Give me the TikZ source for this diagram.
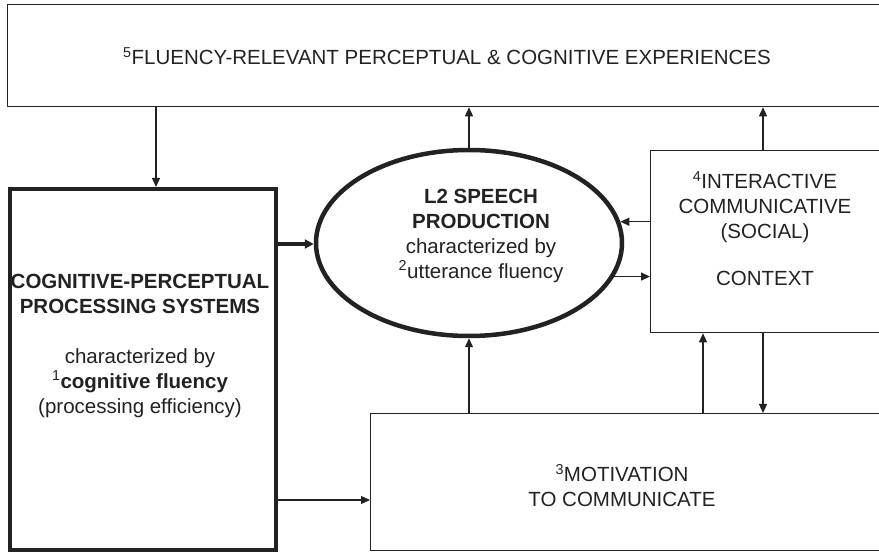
\documentclass[tikz,border=0pt]{standalone}
\usepackage{fontspec}
\setmainfont{Liberation Sans}
\usetikzlibrary{arrows.meta,shapes.geometric}
\definecolor{ink}{HTML}{222222}
\begin{document}
\begin{tikzpicture}[x=1pt,y=-1pt,
  line/.style={draw=ink,line width=1.3pt},
  thickline/.style={draw=ink,line width=4pt},
  arr/.style={line,-{Triangle[length=9pt,width=8pt]}},
  thickarr/.style={thickline,-{Triangle[length=9pt,width=9pt]}},
  txt/.style={text=ink,font=\fontsize{20.5}{25}\selectfont,align=center,inner sep=0pt}]
\useasboundingbox (0,0) rectangle (879,553);
\clip (0,0) rectangle (879,553);
% boxes
\node[line,rectangle,minimum width=873pt,minimum height=102pt,anchor=north west] (top) at (7,4) {};
\node[thickline,rectangle,minimum width=266pt,minimum height=361pt,anchor=north west] (cog) at (8,187) {};
\node[draw=ink,line width=4.5pt,ellipse,minimum width=306pt,minimum height=186pt,inner sep=0pt] (l2) at (469,243) {};
\node[line,rectangle,minimum width=232pt,minimum height=182pt,anchor=north west] (ctx) at (650,150) {};
\node[line,rectangle,minimum width=512pt,minimum height=137pt,anchor=north west] (mot) at (370,413) {};
% texts
\node[txt] (toptxt) at (447,56) {\textsuperscript{5}FLUENCY-RELEVANT PERCEPTUAL \& COGNITIVE EXPERIENCES};
\node[txt,anchor=north] (cogtxt) at (140,274) {\textbf{COGNITIVE-PERCEPTUAL}\\\textbf{PROCESSING SYSTEMS}\\[25pt]characterized by\\\textsuperscript{1}\textbf{cognitive fluency}\\(processing efficiency)};
\node[txt,anchor=north] (l2txt) at (481,189) {\textbf{L2 SPEECH}\\\textbf{PRODUCTION}\\characterized by\\\textsuperscript{2}utterance fluency};
\node[txt,anchor=north] (ctxtxt) at (765,171) {\textsuperscript{4}INTERACTIVE\\COMMUNICATIVE\\(SOCIAL)\\[22pt]CONTEXT};
\node[txt,anchor=north] (mottxt) at (622,464) {\textsuperscript{3}MOTIVATION\\TO COMMUNICATE};
% connectors
\draw[arr] (top.south -| 156,0) -- (cog.north -| 156,0);
\draw[arr] (l2.north) -- (top.south -| l2.north);
\draw[arr] (ctx.north -| 763,0) -- (top.south -| 763,0);
\draw[thickarr] (cog.east |- 0,244) -- (l2.west |- 0,244);
\draw[arr] (ctx.west |- l2.8) -- (l2.8);
\draw[arr] (l2.-13) -- (ctx.west |- l2.-13);
\draw[arr] (cog.east |- 0,500) -- (mot.west |- 0,500);
\draw[arr] (mot.north -| l2.south) -- (l2.south);
\draw[arr] (mot.north -| 703,0) -- (ctx.south -| 703,0);
\draw[arr] (ctx.south -| 763,0) -- (mot.north -| 763,0);
\end{tikzpicture}
\end{document}
